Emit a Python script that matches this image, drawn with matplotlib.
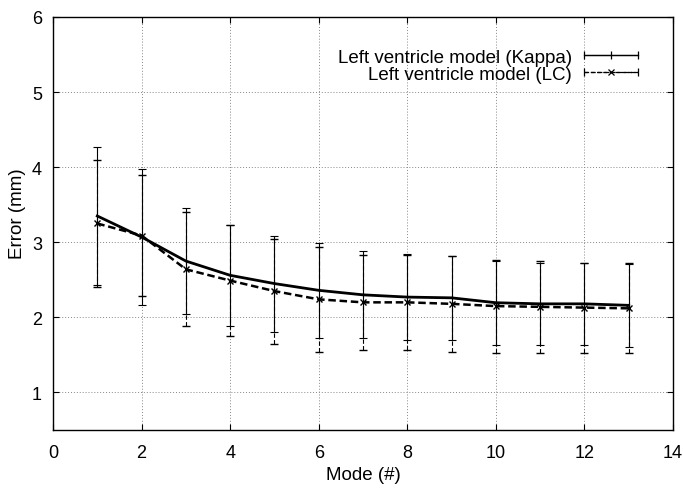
import numpy as np
import matplotlib.pyplot as plt
from matplotlib.container import ErrorbarContainer
from matplotlib.legend_handler import HandlerErrorbar

# mode index
modes = [1, 2, 3, 4, 5, 6, 7, 8, 9, 10, 11, 12, 13]

# Left ventricle model (Kappa)
kappa_mean = [3.35, 3.07, 2.75, 2.56, 2.45, 2.36, 2.30, 2.27, 2.26, 2.195, 2.18, 2.18, 2.16]
kappa_err = [0.92, 0.90, 0.71, 0.67, 0.64, 0.63, 0.58, 0.57, 0.56, 0.56, 0.55, 0.55, 0.55]

# Left ventricle model (LC)
lc_mean = [3.25, 3.09, 2.64, 2.49, 2.35, 2.24, 2.20, 2.20, 2.18, 2.15, 2.14, 2.13, 2.12]
lc_err = [0.85, 0.80, 0.76, 0.74, 0.70, 0.70, 0.63, 0.63, 0.64, 0.62, 0.61, 0.60, 0.60]

plt.rcParams['font.family'] = ['Liberation Sans', 'DejaVu Sans']
plt.rcParams['font.size'] = 13

fig = plt.figure(figsize=(6.83, 4.89), dpi=100)
ax = fig.add_axes([53 / 683, 1 - 431 / 489, 620 / 683, 413 / 489])

# Kappa: thick solid line, thin error bars
ax.errorbar(modes, kappa_mean, yerr=kappa_err, color='black', lw=2.0,
            elinewidth=0.8, capsize=3, capthick=0.8, zorder=3)

# LC: thick dashed line with x markers, dashed error bars
eb = ax.errorbar(modes, lc_mean, yerr=lc_err, color='black', lw=1.8, ls='--',
                 dashes=(3, 1.5), marker='x', ms=5, mew=1.0,
                 elinewidth=0.8, capsize=3, capthick=0.8, zorder=3)
eb[2][0].set_linestyle((0, (4, 2)))

# legend proxies drawn like gnuplot samples (horizontal bar with end caps)
h1 = ax.errorbar([np.nan], [np.nan], xerr=[1], color='black', lw=0.9,
                 marker='|', ms=6, mew=0.9, elinewidth=0.9, capsize=3, capthick=0.9)
h2 = ax.errorbar([np.nan], [np.nan], xerr=[1], color='black', lw=0.9, ls='--',
                 marker='x', ms=4.5, mew=0.9, elinewidth=0.9, capsize=3, capthick=0.9)
h2[2][0].set_linestyle((0, (3, 2)))
leg = ax.legend([h1, h2], ['Left ventricle model (Kappa)', 'Left ventricle model (LC)'],
                loc='upper right', bbox_to_anchor=(0.944, 0.923), frameon=False,
                markerfirst=False, numpoints=1, handlelength=2.9, handletextpad=0.64,
                labelspacing=0.0, fontsize=13.5, borderaxespad=0, borderpad=0,
                handler_map={ErrorbarContainer: HandlerErrorbar(xerr_size=1.45, numpoints=1)})
for t in leg.get_texts():
    t.set_ha('right')
leg._legend_box.align = 'right'

ax.set_xlim(0, 14)
ax.set_ylim(0.5, 6)
ax.set_xticks(range(0, 15, 2))
ax.set_yticks(range(1, 7))
ax.grid(True, color='#888888', ls=(0, (1, 2)), lw=0.7)
ax.tick_params(axis='both', direction='in', length=4.5, width=0.8, top=True, right=True)
ax.tick_params(axis='x', pad=10)
ax.tick_params(axis='y', pad=8)
for s in ax.spines.values():
    s.set_linewidth(1.0)

ax.set_xlabel('Mode (#)', fontsize=13.5)
ax.set_ylabel('Error (mm)', fontsize=13.5)
ax.xaxis.set_label_coords(0.5, -0.086)
ax.yaxis.set_label_coords(-0.044, 0.527)

fig.savefig('out.png', dpi=100)
